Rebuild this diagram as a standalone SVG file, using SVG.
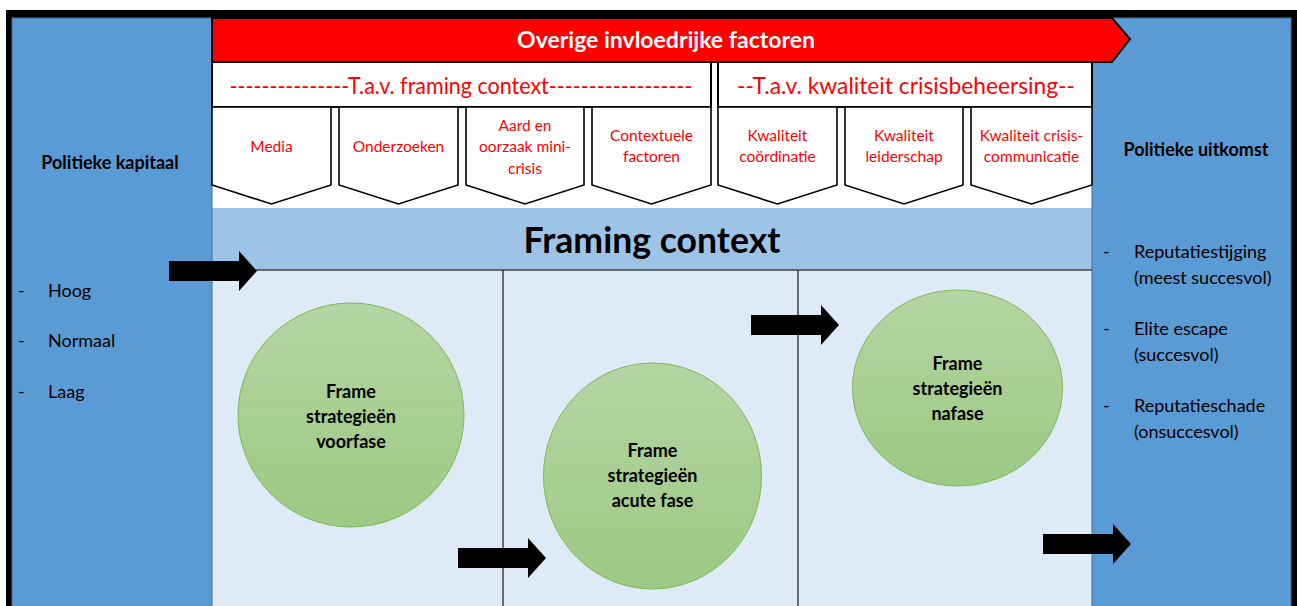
<svg xmlns="http://www.w3.org/2000/svg" width="1297" height="606" viewBox="0 0 1297 606">
<style>
text{font-family:Lato,"Liberation Sans",sans-serif}
.panel{fill:#5B9BD5;stroke:#41719C;stroke-width:1}
.hdr{fill:#fff;stroke:#000;stroke-width:2}
.pent{fill:#fff;stroke:#000;stroke-width:1.6}
.red{fill:#FF0000}
.lab{fill:#FF0000;font-size:15.5px;text-anchor:middle}
.big{fill:#FF0000;font-size:24px;text-anchor:middle}
.circ{fill:url(#g);stroke:#7DB75A;stroke-width:1}
.ct{font-size:18px;font-weight:bold;text-anchor:middle;fill:#000}
.lst{font-size:18px;fill:#000}
.bt{font-size:18px;font-weight:bold;text-anchor:middle;fill:#000}
.arr{fill:#000}
.ln{stroke:#404040;stroke-width:1.5;fill:none}
</style>
<defs>
<linearGradient id="g" x1="0" y1="0" x2="0" y2="1">
<stop offset="0" stop-color="#B5D5A3"/>
<stop offset="1" stop-color="#9CC983"/>
</linearGradient>
<path id="ar" d="M0,-10 H70 V-20 L88,0 L70,20 V10 H0 Z"/>
</defs>
<rect x="0" y="0" width="1297" height="606" fill="#fff"/>
<rect x="6" y="10" width="1291" height="600" fill="#000"/>
<rect x="212" y="18" width="880" height="588" fill="#fff"/>
<g id="framing-context">
<rect x="212" y="208" width="880" height="62" fill="#9DC3E6"/>
<rect x="212" y="270" width="880" height="336" fill="#DEEBF7"/>
<text x="652" y="253" font-size="37" font-weight="bold" text-anchor="middle" fill="#000" textLength="257" lengthAdjust="spacingAndGlyphs">Framing context</text>
<line class="ln" x1="212" y1="270" x2="1092" y2="270"/>
<line class="ln" x1="503" y1="270" x2="503" y2="606"/>
<line class="ln" x1="798" y1="270" x2="798" y2="606"/>
</g>
<g id="politieke-kapitaal">
<rect class="panel" x="12" y="18" width="200" height="590"/>
<text class="bt" x="110" y="169">Politieke kapitaal</text>
<text class="lst" x="18" y="297">-</text><text class="lst" x="48" y="297">Hoog</text>
<text class="lst" x="18" y="347">-</text><text class="lst" x="48" y="347">Normaal</text>
<text class="lst" x="18" y="398">-</text><text class="lst" x="48" y="398">Laag</text>
</g>
<g id="politieke-uitkomst">
<rect class="panel" x="1092" y="18" width="199" height="590"/>
<text class="bt" x="1196" y="156">Politieke uitkomst</text>
<text class="lst" x="1103" y="258">-</text><text class="lst" x="1134" y="258">Reputatiestijging</text>
<text class="lst" x="1134" y="284">(meest succesvol)</text>
<text class="lst" x="1103" y="335">-</text><text class="lst" x="1134" y="335">Elite escape</text>
<text class="lst" x="1134" y="361">(succesvol)</text>
<text class="lst" x="1103" y="412">-</text><text class="lst" x="1134" y="412">Reputatieschade</text>
<text class="lst" x="1134" y="438">(onsuccesvol)</text>
</g>
<g id="overige-factoren">
<path d="M212,18 H1112 L1130,39 L1112,62 H212 Z" class="red" stroke="#000" stroke-width="2"/>
<text x="666" y="48" font-size="23" font-weight="bold" fill="#fff" text-anchor="middle">Overige invloedrijke factoren</text>
</g>
<g id="tav-framing">
<rect class="hdr" x="212" y="62" width="499" height="45"/>
<text class="big" x="461" y="94" textLength="463" lengthAdjust="spacingAndGlyphs">---------------T.a.v. framing context------------------</text>
</g>
<g id="tav-kwaliteit">
<rect class="hdr" x="718" y="62" width="374" height="45"/>
<text class="big" x="906" y="94" textLength="338" lengthAdjust="spacingAndGlyphs">--T.a.v. kwaliteit crisisbeheersing--</text>
</g>
<g id="media">
<path class="pent" d="M212,107 H331 V185 L271.5,204 L212,185 Z"/>
<text class="lab" x="271.5" y="152">Media</text>
</g>
<g id="onderzoeken">
<path class="pent" d="M339,107 H458 V185 L398.5,204 L339,185 Z"/>
<text class="lab" x="398.5" y="152">Onderzoeken</text>
</g>
<g id="aard">
<path class="pent" d="M466,107 H584 V185 L525,204 L466,185 Z"/>
<text class="lab" x="525" y="131">Aard en</text>
<text class="lab" x="525" y="152">oorzaak mini-</text>
<text class="lab" x="525" y="174">crisis</text>
</g>
<g id="contextuele">
<path class="pent" d="M592,107 H711 V185 L651.5,204 L592,185 Z"/>
<text class="lab" x="651.5" y="141">Contextuele</text>
<text class="lab" x="651.5" y="162">factoren</text>
</g>
<g id="coordinatie">
<path class="pent" d="M718,107 H837 V185 L777.5,204 L718,185 Z"/>
<text class="lab" x="777.5" y="141">Kwaliteit</text>
<text class="lab" x="777.5" y="162">coördinatie</text>
</g>
<g id="leiderschap">
<path class="pent" d="M845,107 H963 V185 L904,204 L845,185 Z"/>
<text class="lab" x="904" y="141">Kwaliteit</text>
<text class="lab" x="904" y="162">leiderschap</text>
</g>
<g id="communicatie">
<path class="pent" d="M971,107 H1092 V185 L1031.5,204 L971,185 Z"/>
<text class="lab" x="1031.5" y="141">Kwaliteit crisis-</text>
<text class="lab" x="1031.5" y="162">communicatie</text>
</g>
<g id="voorfase">
<ellipse class="circ" cx="351" cy="415" rx="113" ry="112"/>
<text class="ct" x="351" y="398">Frame</text>
<text class="ct" x="351" y="423">strategieën</text>
<text class="ct" x="351" y="448">voorfase</text>
</g>
<g id="acute-fase">
<ellipse class="circ" cx="652.5" cy="476" rx="109" ry="113"/>
<text class="ct" x="652.5" y="457">Frame</text>
<text class="ct" x="652.5" y="482">strategieën</text>
<text class="ct" x="652.5" y="507">acute fase</text>
</g>
<g id="nafase">
<ellipse class="circ" cx="957.5" cy="388" rx="105" ry="98"/>
<text class="ct" x="957.5" y="370">Frame</text>
<text class="ct" x="957.5" y="395">strategieën</text>
<text class="ct" x="957.5" y="420">nafase</text>
</g>
<g id="connectors">
<use href="#ar" class="arr" x="169" y="271"/>
<use href="#ar" class="arr" x="458" y="558"/>
<use href="#ar" class="arr" x="751" y="325"/>
<use href="#ar" class="arr" x="1043" y="544"/>
</g>
</svg>
